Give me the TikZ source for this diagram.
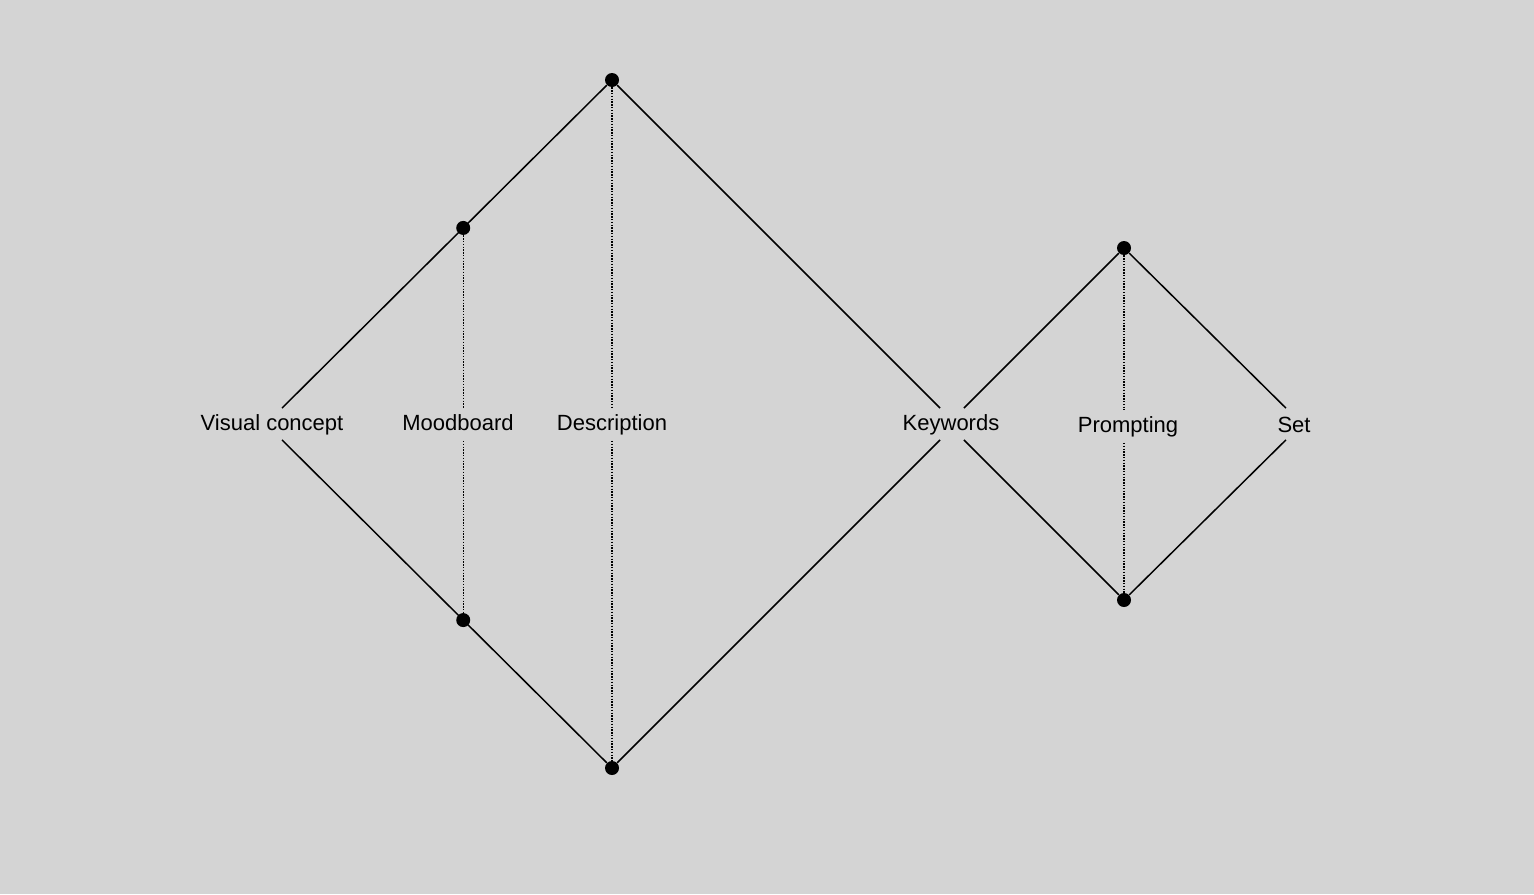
\documentclass[tikz,border=0pt]{standalone}
\usepackage{fontspec}
\setmainfont{Liberation Sans}
\usetikzlibrary{calc}
\definecolor{paper}{RGB}{212,212,212}
\begin{document}
\begin{tikzpicture}[x=0.5pt, y=-0.5pt,
    word/.style={inner xsep=2pt, inner ysep=2.75pt, text height=8pt, text depth=2.5pt, font=\fontsize{11}{13}\selectfont},
    dot/.style={circle, fill=black, inner sep=0pt, minimum size=7pt},
    side/.style={line width=0.75pt, shorten >=11.3pt},
    guide/.style={line width=0.7pt, dash pattern=on 0.7pt off 0.7pt}]

    % \draw [help lines, step=100] (0, 0) grid (1534, 894);
    \fill [paper] (0, 0) rectangle (1534, 894);
    \useasboundingbox (0, 0) rectangle (1534, 894);

    % large diamond
    \node [dot] (btop) at ( 612,  80) {};
    \node [dot] (bbot) at ( 612, 768) {};
    \coordinate (bleft)  at ( 266, 424);
    \coordinate (bright) at ( 956, 424);

    \node [word] (visual) at ( 272, 424.5) {Visual concept};
    \node [word] (mood)   at ( 458, 424.5) {Moodboard};
    \node [word] (desc)   at ( 612, 424.5) {Description};
    \node [word] (keys)   at ( 951, 424.5) {Keywords};

    \node [dot] (mtop) at ($(btop)!0.43!(bleft)$) {};
    \node [dot] (mbot) at ($(bbot)!0.43!(bleft)$) {};

    \draw [side] (btop) -- (bleft);
    \draw [side] (bbot) -- (bleft);
    \draw [side] (btop) -- (bright);
    \draw [side] (bbot) -- (bright);

    \draw [guide] (mtop) -- (mtop |- mood.north);
    \draw [guide] (mtop |- mood.south) -- (mbot);
    \draw [guide] (btop) -- (desc);
    \draw [guide] (desc) -- (bbot);

    % small diamond
    \node [dot] (stop) at (1124, 248) {};
    \node [dot] (sbot) at (1124, 600) {};
    \coordinate (sleft)  at ( 948, 424);
    \coordinate (sright) at (1302, 424);

    \node [word] (prompt) at (1128, 426.5) {Prompting};
    \node [word] (set)    at (1294, 426.5) {Set};

    \draw [side] (stop) -- (sleft);
    \draw [side] (sbot) -- (sleft);
    \draw [side] (stop) -- (sright);
    \draw [side] (sbot) -- (sright);

    \draw [guide] (stop) -- (stop |- prompt.north);
    \draw [guide] (stop |- prompt.south) -- (sbot);

\end{tikzpicture}
\end{document}
